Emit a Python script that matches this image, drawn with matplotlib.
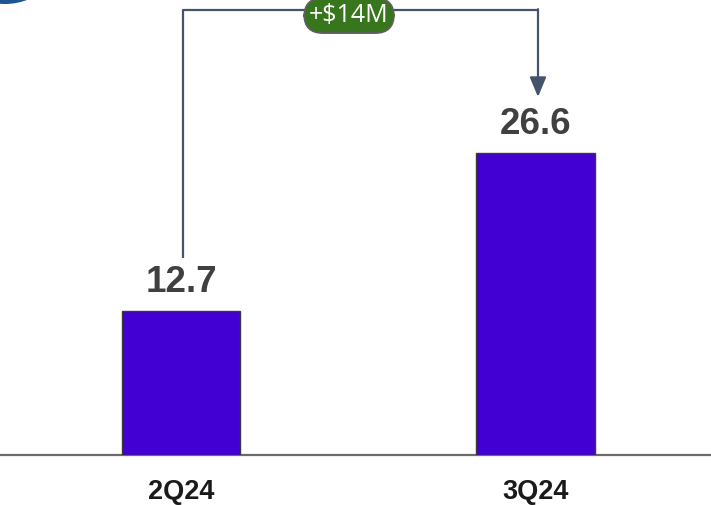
import matplotlib.pyplot as plt
from matplotlib.patches import Ellipse

# Données
trimestres = ["2Q24", "3Q24"]
valeurs = [12.7, 26.6]

couleur_barre = "#4300D2"
couleur_fleche = "#44546A"
couleur_badge = "#38761D"

fig = plt.figure(figsize=(7.11, 5.05), dpi=100)
# axe principal : la ligne de base est l'axe x
ax = fig.add_axes([0, 50 / 505, 1, 455 / 505])

x = list(range(len(trimestres)))
ax.bar(x, valeurs, width=0.333, color=couleur_barre, edgecolor="#3a3a3a", linewidth=1.0, zorder=3)

ax.set_xlim(-0.5106, 1.495)
ax.set_ylim(0, 40.12)

for s in ["top", "right", "left"]:
    ax.spines[s].set_visible(False)
ax.spines["bottom"].set_color("#6b6b6b")
ax.spines["bottom"].set_linewidth(1.6)
ax.set_yticks([])
ax.set_xticks(x)
ax.set_xticklabels(trimestres, fontfamily="Liberation Sans", fontweight="bold",
                   fontsize=19.5, color="#1a1a1a")
ax.tick_params(axis="x", length=0, pad=17.5)

# valeurs au-dessus des barres
for xi, v in zip(x, valeurs):
    ax.annotate(f"{v:.1f}", (xi, v), xytext=(0, 14), textcoords="offset points",
                ha="center", va="baseline", fontfamily="Liberation Sans",
                fontweight="bold", fontsize=26.5, color="#404040")

# connecteur entre les deux barres
x0, x1 = x[0] + 0.006, x[1] + 0.007
y_depart = valeurs[0] + 4.67
y_haut = 39.24
y_pointe = valeurs[1] + 4.97
ax.plot([x0, x0, x1], [y_depart, y_haut, y_haut], color=couleur_fleche, lw=1.6,
        solid_capstyle="butt", clip_on=False)
ax.annotate("", xy=(x1, y_pointe), xytext=(x1, y_haut + 0.07),
            arrowprops=dict(arrowstyle="-|>,head_length=1.2,head_width=0.5",
                            color=couleur_fleche, lw=1.6, shrinkA=0, shrinkB=0),
            annotation_clip=False)

ecart = valeurs[1] - valeurs[0]
ax.text(0.474, 38.75, f"+${round(ecart)}M", ha="center", va="center",
        fontfamily="Open Sans", fontsize=18, color="white", zorder=5,
        bbox=dict(boxstyle="round,pad=0.2,rounding_size=0.75", facecolor=couleur_badge,
                  edgecolor="#5f5f5f", linewidth=1.3), clip_on=False)

# pastille bleue coupée en haut à gauche
fig.patches.append(Ellipse((5 / 711, 1 + 58 / 505), 124 / 711, 124 / 505,
                           transform=fig.transFigure, facecolor="#1D5590",
                           edgecolor="none"))

fig.savefig("out.png", dpi=100)
